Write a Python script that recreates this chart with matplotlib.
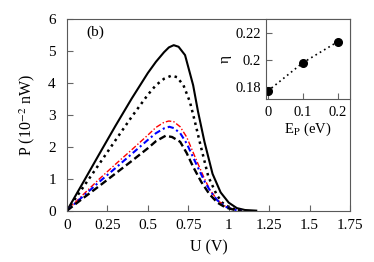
import matplotlib
matplotlib.use("Agg")
import matplotlib.pyplot as plt

plt.rcParams['font.family'] = ['Liberation Serif', 'DejaVu Serif']
plt.rcParams['mathtext.fontset'] = 'stix'

# main panel: P(U) curves
u_solid = [0, 0.1, 0.2, 0.3, 0.4, 0.5, 0.55, 0.6, 0.63, 0.66, 0.69, 0.73, 0.78, 0.81,
           0.85, 0.9, 0.95, 1.0, 1.05, 1.1, 1.17]
p_solid = [0, 0.88, 1.77, 2.65, 3.5, 4.3, 4.65, 4.95, 5.1, 5.17, 5.12, 4.86, 3.92, 3.1,
           2.15, 1.15, 0.57, 0.25, 0.08, 0.02, 0]

u_dot = [0, 0.1, 0.2, 0.3, 0.4, 0.5, 0.55, 0.6, 0.647, 0.68, 0.72, 0.76, 0.79, 0.823,
         0.874, 0.926, 0.96, 1.01, 1.05, 1.1]
p_dot = [0, 0.73, 1.46, 2.2, 2.93, 3.62, 3.92, 4.12, 4.22, 4.17, 3.92, 3.4, 2.8, 2.1,
         1.06, 0.49, 0.25, 0.08, 0.03, 0]

u_red = [0, 0.1, 0.2, 0.3, 0.4, 0.5, 0.55, 0.6, 0.63, 0.66, 0.7, 0.74, 0.8, 0.85,
         0.884, 0.93, 0.98, 1.03, 1.08]
p_red = [0, 0.5, 0.99, 1.45, 1.9, 2.36, 2.6, 2.76, 2.8, 2.78, 2.62, 2.3, 1.58, 1.0,
         0.65, 0.33, 0.13, 0.04, 0]

u_blue = [0, 0.1, 0.2, 0.3, 0.4, 0.5, 0.55, 0.6, 0.633, 0.66, 0.7, 0.74, 0.8, 0.85,
          0.89, 0.93, 0.98, 1.03, 1.08]
p_blue = [0, 0.45, 0.9, 1.33, 1.77, 2.21, 2.42, 2.57, 2.62, 2.58, 2.42, 2.1, 1.45, 0.92,
          0.58, 0.32, 0.12, 0.03, 0]

u_dash = [0, 0.1, 0.2, 0.3, 0.4, 0.5, 0.55, 0.61, 0.65, 0.7, 0.74, 0.78, 0.83, 0.88,
          0.93, 0.98, 1.03, 1.08]
p_dash = [0, 0.39, 0.77, 1.16, 1.55, 1.95, 2.17, 2.34, 2.3, 2.15, 1.8, 1.37, 0.9, 0.52,
          0.25, 0.1, 0.03, 0]

x_ticks = [0, 0.25, 0.5, 0.75, 1, 1.25, 1.5, 1.75]
x_labels = ['0', '0.25', '0.5', '0.75', '1', '1.25', '1.5', '1.75']
y_ticks = [0, 1, 2, 3, 4, 5, 6]

# inset: efficiency vs E_P
ep = [0, 0.1, 0.2]
eta = [0.1768, 0.1978, 0.2134]

fig = plt.figure(figsize=(3.74, 2.62), dpi=100)
ax = fig.add_axes([0.179, 0.196, 0.757, 0.733])

ax.plot(u_solid, p_solid, color='black', lw=1.5, ls='-')
ax.plot(u_dot, p_dot, color='black', lw=1.8, ls=(0, (1, 1.6)))
ax.plot(u_red, p_red, color='red', lw=1.0, ls=(0, (4, 1.5, 1, 1.5)))
ax.plot(u_blue, p_blue, color='blue', lw=1.5, ls=(0, (3, 1.5, 1, 1.5)))
ax.plot(u_dash, p_dash, color='black', lw=1.7, ls=(0, (3, 1.5)))

ax.set_xlim(0, 1.75)
ax.set_ylim(0, 6)
ax.set_xticks(x_ticks)
ax.set_xticklabels(x_labels)
ax.set_yticks(y_ticks)
ax.tick_params(direction='in', length=4, labelsize=11, color='0.4')
ax.tick_params(axis='x', pad=6)
ax.tick_params(axis='y', pad=8)
ax.set_xlabel('U (V)', fontsize=11.5, labelpad=5)
ax.set_ylabel('P (10$^{-2}$ nW)', fontsize=11.5, labelpad=8)
for s in ax.spines.values():
    s.set_color('0.35')
ax.text(0.12, 5.45, '(b)', fontsize=11)

ins = fig.add_axes([0.711, 0.622, 0.225, 0.307])
ins.plot(ep, eta, color='black', ls=(0, (1, 2)), lw=1.2, marker='o', ms=5.5)
ins.set_xlim(-0.005, 0.235)
ins.set_ylim(0.171, 0.2305)
ins.set_xticks([0, 0.1, 0.2])
ins.set_xticklabels(['0', '0.1', '0.2'])
ins.set_yticks([0.18, 0.2, 0.22])
ins.set_yticklabels(['0.18', '0.2', '0.22'])
ins.tick_params(direction='in', length=4, labelsize=10.5, color='0.4')
ins.tick_params(axis='x', pad=5)
ins.set_xlabel('E$_\\mathrm{P}$ (eV)', fontsize=10.5, labelpad=1)
ins.set_ylabel('η', fontsize=11, labelpad=3)
for s in ins.spines.values():
    s.set_color('0.35')

fig.savefig('out.png', dpi=100)
